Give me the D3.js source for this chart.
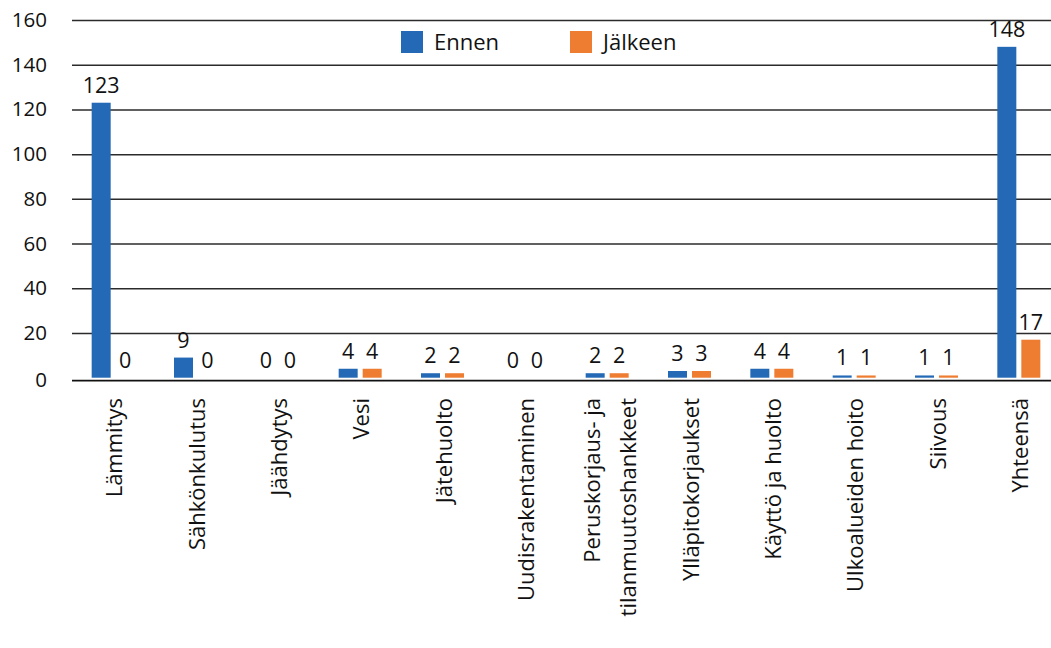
<!DOCTYPE html>
<html>
<head>
<meta charset="utf-8">
<script src="https://cdn.jsdelivr.net/npm/d3@7"></script>
<style>
  html, body { margin: 0; padding: 0; background: #fff; }
  svg { display: block; font-family: "Open Sans", sans-serif; }
</style>
</head>
<body>
<svg id="chart" width="1051" height="648"></svg>
<script>
// Category labels (line breaks split with "\n")
const categories = [
  "Lämmitys", "Sähkönkulutus", "Jäähdytys", "Vesi", "Jätehuolto",
  "Uudisrakentaminen", "Peruskorjaus- ja\ntilanmuutoshankkeet", "Ylläpitokorjaukset",
  "Käyttö ja huolto", "Ulkoalueiden hoito", "Siivous", "Yhteensä"
];
const seriesNames = ["Ennen", "Jälkeen"];
const ennen   = [123, 9, 0, 4, 2, 0, 2, 3, 4, 1, 1, 148];
const jalkeen = [0, 0, 0, 4, 2, 0, 2, 3, 4, 1, 1, 17];
const yTicks = [0, 20, 40, 60, 80, 100, 120, 140, 160];
const colors = ["#2369B5", "#EE7D31"];
const ink = "#111";

const svg = d3.select("#chart");
const plotLeft = 72, plotW = 988, plotTop = 20, plotBottom = 377.7;

const x = d3.scaleBand().domain(categories).range([plotLeft, plotLeft + plotW]);
const y = d3.scaleLinear().domain([0, 160]).range([plotBottom, plotTop]);

// Gridlines and y-axis labels
const yAxis = d3.axisLeft(y).tickValues(yTicks.filter(d => d > 0)).tickSize(-(1051 - plotLeft)).tickPadding(25);
const gy = svg.append("g").attr("transform", `translate(${plotLeft},0)`).call(yAxis);
gy.select(".domain").remove();
gy.selectAll(".tick line").attr("stroke", "#2b2b2b").attr("stroke-width", 1.5);
gy.selectAll(".tick text").attr("font-size", 20.5).attr("fill", ink)
  .attr("font-family", "Open Sans, sans-serif");

// Zero label sits on the baseline
svg.append("text").attr("x", plotLeft - 25).attr("y", y(0) + 3).attr("dy", "0.32em")
  .attr("text-anchor", "end").attr("font-size", 20.5).attr("fill", ink).text(yTicks[0]);

// Baseline
svg.append("line").attr("x1", plotLeft).attr("x2", 1051)
  .attr("y1", y(0) + 3).attr("y2", y(0) + 3)
  .attr("stroke", "#111").attr("stroke-width", 1.7);

// Bars
const rows = categories.map((c, i) => ({ c, vals: [ennen[i], jalkeen[i]] }));
const barW = 19;
const offsets = [x.bandwidth() / 2 - 21.5, x.bandwidth() / 2 + 2.5];
const groups = svg.append("g").selectAll("g").data(rows).join("g")
  .attr("transform", d => `translate(${x(d.c)},0)`);
groups.selectAll("rect").data(d => d.vals.map((v, k) => ({ v, k }))).join("rect")
  .attr("x", d => offsets[d.k]).attr("width", barW)
  .attr("y", d => y(d.v)).attr("height", d => y(0) - y(d.v))
  .attr("fill", d => colors[d.k]);
groups.selectAll("text.val").data(d => d.vals.map((v, k) => ({ v, k }))).join("text")
  .attr("class", "val")
  .attr("x", d => offsets[d.k] + barW / 2).attr("y", d => y(d.v) - 10)
  .attr("text-anchor", "middle").attr("font-size", 21.5).attr("fill", ink)
  .text(d => d.v);

// Category labels, rotated
const xl = svg.append("g");
categories.forEach(c => {
  const lines = c.split("\n");
  const cx = x(c) + x.bandwidth() / 2 + 1.5;
  lines.forEach((ln, j) => {
    const dx = lines.length > 1 ? (j === 0 ? -16 : 20) : 0;
    xl.append("text")
      .attr("transform", `translate(${cx + dx},${398}) rotate(-90)`)
      .attr("text-anchor", "end").attr("dy", "0.35em")
      .attr("font-size", 22).attr("fill", ink).text(ln);
  });
});

// Legend
const legend = svg.append("g");
const legX = [401, 570];
seriesNames.forEach((s, k) => {
  legend.append("rect").attr("x", legX[k]).attr("y", 31).attr("width", 22).attr("height", 22).attr("fill", colors[k]);
  legend.append("text").attr("x", legX[k] + 33).attr("y", 42).attr("dy", "0.35em")
    .attr("font-size", 22).attr("fill", ink).text(s);
});
</script>
</body>
</html>
